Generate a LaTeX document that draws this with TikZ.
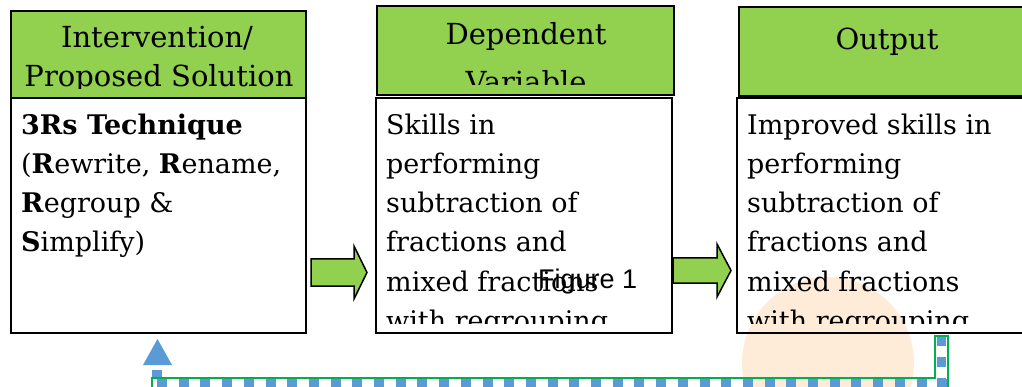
\documentclass[tikz,border=0pt]{standalone}
\usepackage{fontspec}
\setmainfont{DejaVu Serif}
\newfontfamily\figfont{Liberation Sans}
\definecolor{hdrgreen}{RGB}{146,208,80}
\definecolor{fbblue}{RGB}{91,155,213}
\definecolor{fbgreen}{RGB}{0,176,80}
\definecolor{wmorange}{RGB}{254,236,216}
\begin{document}
\begin{tikzpicture}[x=1pt,y=-1pt,
  hdr/.style={draw=black, line width=1.5pt, fill=hdrgreen, inner sep=0pt, outer sep=0pt, anchor=north west},
  bodybox/.style={draw=black, line width=1.8pt, inner sep=0pt, outer sep=0pt, anchor=north west},
  hdrtext/.style={font=\fontsize{29}{38}\selectfont, anchor=base, inner sep=0pt},
  bodytext/.style={font=\fontsize{27}{39}\selectfont, anchor=base west, inner sep=0pt},
  blockarrow/.style={draw=black, line width=1.5pt, fill=hdrgreen, line join=miter},
  figlabel/.style={font=\figfont\fontsize{27}{30}\selectfont, anchor=base west, inner sep=0pt}
]
\useasboundingbox (0,0) rectangle (1022,387);
% watermark
\fill[wmorange] (828,363) circle (86);
% headers
\node[hdr, minimum width=295pt, minimum height=87pt] (h1) at (11,11) {};
\node[hdr, minimum width=297pt, minimum height=89pt] (h2) at (377,6) {};
\node[hdr, minimum width=296pt, minimum height=89pt] (h3) at (739,7) {};
% bodies
\node[bodybox, minimum width=295pt, minimum height=235pt] (b1) at (11,98) {};
\node[bodybox, minimum width=296pt, minimum height=235pt] (b2) at (376,98) {};
\node[bodybox, minimum width=296pt, minimum height=235pt] (b3) at (737,98) {};
% header texts
\begin{scope}
\clip (11,11) rectangle (306,89);
\node[hdrtext] (h1a) at (157,48) {Intervention/};
\node[hdrtext] (h1b) at (159,87) {Proposed Solution};
\end{scope}
\begin{scope}
\clip (377,6) rectangle (674,85);
\node[hdrtext] (h2a) at (526,45) {Dependent};
\node[hdrtext] (h2b) at (526,93) {Variable};
\end{scope}
\node[hdrtext] (h3a) at (887,50) {Output};
% body texts
\node[bodytext] (t1a) at (21,135) {\textbf{3Rs Technique}};
\node[bodytext] (t1b) at (21,174) {(\textbf{R}ewrite, \textbf{R}ename,};
\node[bodytext] (t1c) at (21,213) {\textbf{R}egroup \&};
\node[bodytext] (t1d) at (21,252) {\textbf{S}implify)};
\begin{scope}
\clip (376,98) rectangle (672,323);
\foreach \t [count=\i from 0] in {Skills in,performing,subtraction of,fractions and,mixed fractions,with regrouping}
  \node[bodytext] (t2-\i) at (386,135+39*\i) {\t};
\end{scope}
\begin{scope}
\clip (737,98) rectangle (1022,323);
\foreach \t [count=\i from 0] in {Improved skills in,performing,subtraction of,fractions and,mixed fractions,with regrouping}
  \node[bodytext] (t3-\i) at (747,135+39*\i) {\t};
\end{scope}
\node[figlabel] (fig) at (538,288) {Figure 1};
% block arrows
\coordinate (a1) at (311,272.5);
\coordinate (a2) at (673,270.5);
\draw[blockarrow] (a1) ++(0,-13.5) -- ++(43,0) -- ++(0,-13) -- ++(13,26.5) -- ++(-13,26.5) -- ++(0,-13) -- ++(-43,0) -- cycle;
\draw[blockarrow] (a2) ++(0,-12.5) -- ++(44,0) -- ++(0,-14) -- ++(14,26.5) -- ++(-14,26.5) -- ++(0,-14) -- ++(-44,0) -- cycle;
% feedback
\fill[fbblue] (143,365) -- (157.5,339) -- (172,365) -- cycle;
\fill[fbblue] (152,370) rectangle (162,378);
\draw[fbblue, line width=12pt, dash pattern=on 10pt off 11.7pt] (157,385) -- (948,385);
\draw[fbblue, line width=9pt, dash pattern=on 10pt off 11pt] (941.5,336) -- (941.5,392);
\draw[fbgreen, line width=1.3pt] (152,392) -- (152,378) -- (935,378) -- (935,336) -- (948,336) -- (948,392);
\end{tikzpicture}
\end{document}
